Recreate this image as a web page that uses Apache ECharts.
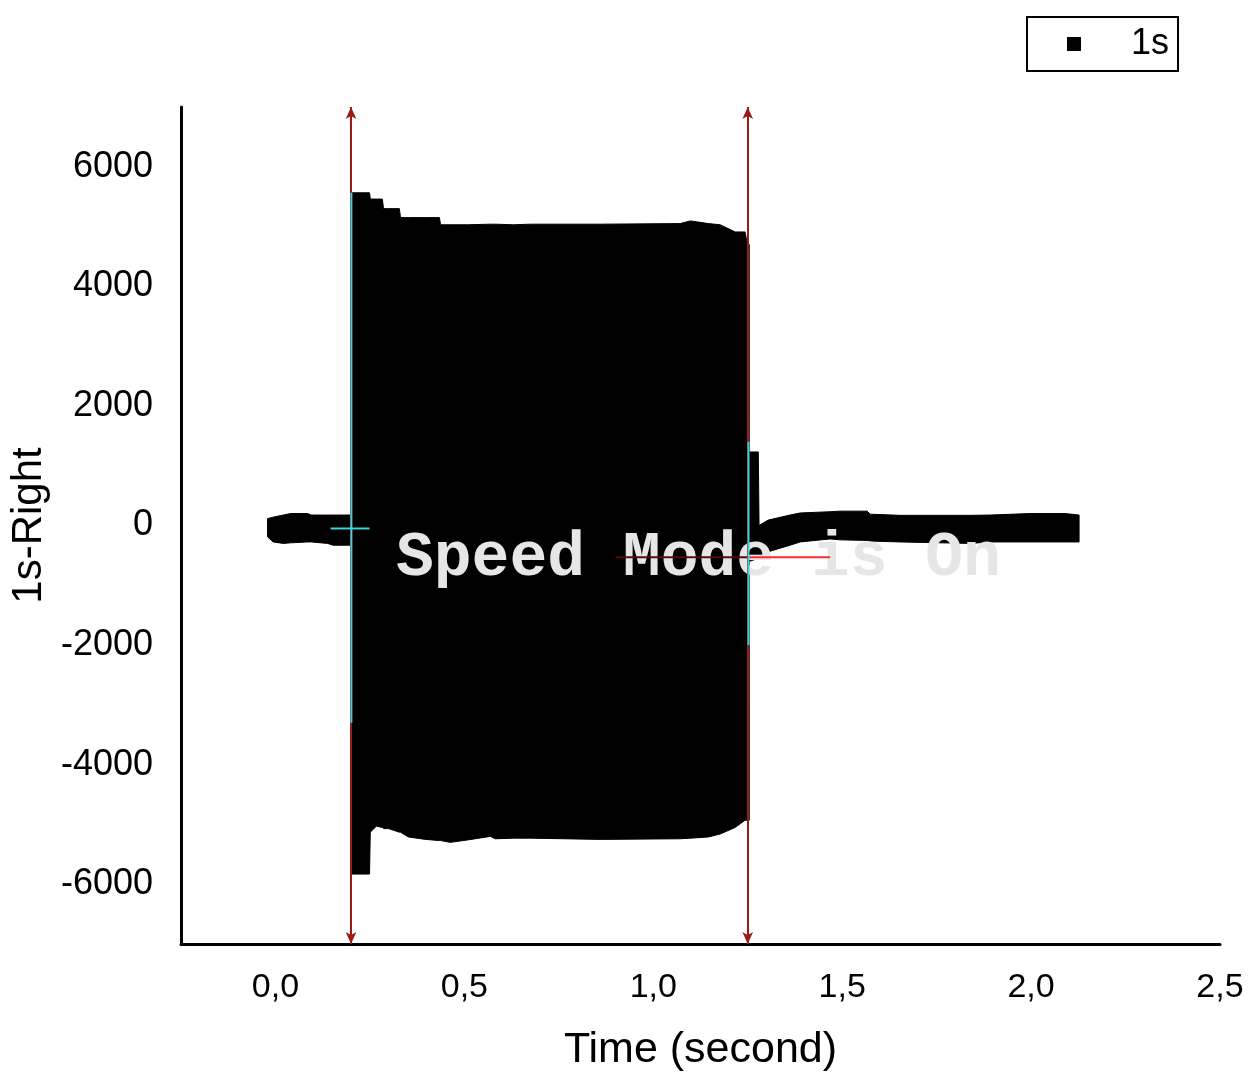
<!DOCTYPE html>
<html style="height: 100%">
<head>
<meta charset="utf-8">
<script type="text/javascript" src="https://cdn.jsdelivr.net/npm/echarts@6/dist/echarts.min.js"></script>
</head>
<body style="height: 100%; margin: 0">
<div id="container" style="height: 100%"></div>
<script type="text/javascript">

// envelope of the recorded signal, read off the plot (time in s, value in counts)
// before the burst
var preT  = [-0.021, -0.006, 0.021, 0.040, 0.085, 0.095, 0.138, 0.153, 0.201];
var preHi = [115, 140, 175, 200, 200, 175, 175, 175, 175];
var preLo = [-190, -275, -300, -290, -275, -275, -300, -330, -330];

// the burst (oscillation is too dense to see, only its envelope)
var burstT  = [0.201, 0.249, 0.251, 0.267, 0.283, 0.286, 0.299, 0.328, 0.331, 0.352, 0.397, 0.434, 0.437, 0.463,
               0.508, 0.569, 0.582, 0.630, 0.675, 0.860, 1.071, 1.098, 1.146, 1.177, 1.217, 1.243, 1.249, 1.254];
var burstHi = [5565, 5565, 5460, 5460, 5460, 5300, 5300, 5300, 5150, 5150, 5150, 5150, 5030, 5030,
               5030, 5040, 5040, 5030, 5040, 5040, 5050, 5095, 5050, 5030, 4910, 4910, 4700, 4700];
var burstLo = [-5830, -5830, -5130, -5030, -5050, -5070, -5070, -5130, -5130, -5210, -5250, -5270, -5270, -5300,
               -5260, -5200, -5240, -5230, -5230, -5250, -5240, -5230, -5210, -5160, -5050, -4930, -4930, -4930];

// after the burst
var postT  = [1.254, 1.278, 1.280, 1.304, 1.362, 1.389, 1.468, 1.495, 1.566, 1.574, 1.653, 1.839, 1.892, 1.997, 2.090, 2.127];
var postHi = [1230, 1230, 0, 90, 175, 210, 230, 240, 240, 190, 170, 170, 175, 200, 200, 175];
var postLo = [-600, -550, -500, -440, -330, -275, -225, -240, -250, -260, -275, -300, -275, -275, -275, -275];

// cursor positions (dark red verticals)
var cursorT = [0.201, 1.254];

// cyan / red marker lines drawn by the recorder
var cyanLines = [
    [[0.201, 5565], [0.201, -3300]],
    [[1.252, 1400], [1.252, -2000]],
    [[0.146, -50], [0.249, -50]]
];
var redLine = [[1.254, -530], [1.468, -530]];
var darkRedLine = [[0.900, -530], [1.254, -530]];

var xTicks = [0, 0.5, 1, 1.5, 2, 2.5];
var yTicks = [-6000, -4000, -2000, 0, 2000, 4000, 6000];

var segments = [
    {t: preT, hi: preHi, lo: preLo},
    {t: burstT, hi: burstHi, lo: burstLo},
    {t: postT, hi: postHi, lo: postLo}
];

var dom = document.getElementById('container');
var myChart = echarts.init(dom);

// fill between the upper and lower envelope of one segment
function renderBand(params, api) {
    var seg = segments[params.dataIndex];
    var pts = [];
    for (var i = 0; i < seg.t.length; i++) {
        pts.push(api.coord([seg.t[i], seg.hi[i]]));
    }
    for (var j = seg.t.length - 1; j >= 0; j--) {
        pts.push(api.coord([seg.t[j], seg.lo[j]]));
    }
    return {
        type: 'polygon',
        shape: {points: pts},
        style: {fill: '#000', stroke: '#000', lineWidth: 1}
    };
}

function isTick(list, v) {
    for (var i = 0; i < list.length; i++) {
        if (Math.abs(list[i] - v) < 1e-6) return true;
    }
    return false;
}

var lineSeries = [];
cyanLines.forEach(function (seg) {
    lineSeries.push({
        type: 'line', data: seg, symbol: 'none', silent: true, z: 5,
        lineStyle: {color: '#40d0d8', width: 2}
    });
});

var option = {
    animation: false,
    textStyle: {fontFamily: 'Liberation Sans'},
    grid: {left: 181, right: 35, top: 107, bottom: 135},
    legend: {
        left: 1027, top: 17,
        data: [{name: '1s', icon: 'rect', itemStyle: {color: '#000'}}],
        borderColor: '#000', borderWidth: 2,
        padding: [9, 9, 9, 40],
        itemWidth: 14, itemHeight: 14,
        selectedMode: false,
        textStyle: {fontSize: 36, color: '#000', padding: [0, 0, 0, 45]}
    },
    xAxis: {
        type: 'value', min: -0.25, max: 2.5, interval: 0.25,
        name: 'Time (second)', nameLocation: 'middle', nameGap: 85,
        nameTextStyle: {fontSize: 43, color: '#000'},
        axisLine: {onZero: false, lineStyle: {color: '#000', width: 3}},
        axisTick: {show: false},
        splitLine: {show: false},
        axisLabel: {
            fontSize: 34, color: '#000', margin: 27, showMinLabel: true, showMaxLabel: true,
            formatter: function (v) {
                return isTick(xTicks, v) ? v.toFixed(1).replace('.', ',') : '';
            }
        }
    },
    yAxis: {
        type: 'value', min: -7000, max: 7000, interval: 1000,
        name: '1s-Right', nameLocation: 'middle', nameGap: 129,
        nameTextStyle: {fontSize: 42, color: '#000'},
        axisLine: {onZero: false, lineStyle: {color: '#000', width: 3}},
        axisTick: {show: false},
        splitLine: {show: false},
        axisLabel: {
            fontSize: 36, color: '#000', margin: 28,
            formatter: function (v) {
                return isTick(yTicks, v) ? String(v) : '';
            }
        }
    },
    graphic: [{
        type: 'text', left: 396, top: 528, z: 3,
        style: {
            text: 'Speed Mode is On',
            font: 'bold 63px "Liberation Mono"',
            fill: '#e6e6e6'
        }
    }],
    series: [{
        name: '1s',
        type: 'custom',
        renderItem: renderBand,
        data: segments.map(function (s, i) { return [s.t[0], 0, i]; }),
        encode: {x: 0, y: 1},
        itemStyle: {color: '#000'},
        silent: true,
        z: 2
    }, {
        type: 'line', data: darkRedLine, symbol: 'none', silent: true, z: 5,
        lineStyle: {color: '#5a0808', width: 2}
    }, {
        type: 'line', data: redLine, symbol: 'none', silent: true, z: 5,
        lineStyle: {color: '#ff2a2a', width: 2}
    }, {
        type: 'line', data: [], silent: true, z: 6,
        markLine: {
            silent: true, animation: false,
            symbol: ['arrow', 'arrow'], symbolSize: [8, 12],
            label: {show: false},
            lineStyle: {color: '#9b1b1b', width: 2, type: 'solid'},
            data: cursorT.map(function (t) { return {xAxis: t}; })
        }
    }].concat(lineSeries)
};

myChart.setOption(option);
</script>
</body>
</html>
